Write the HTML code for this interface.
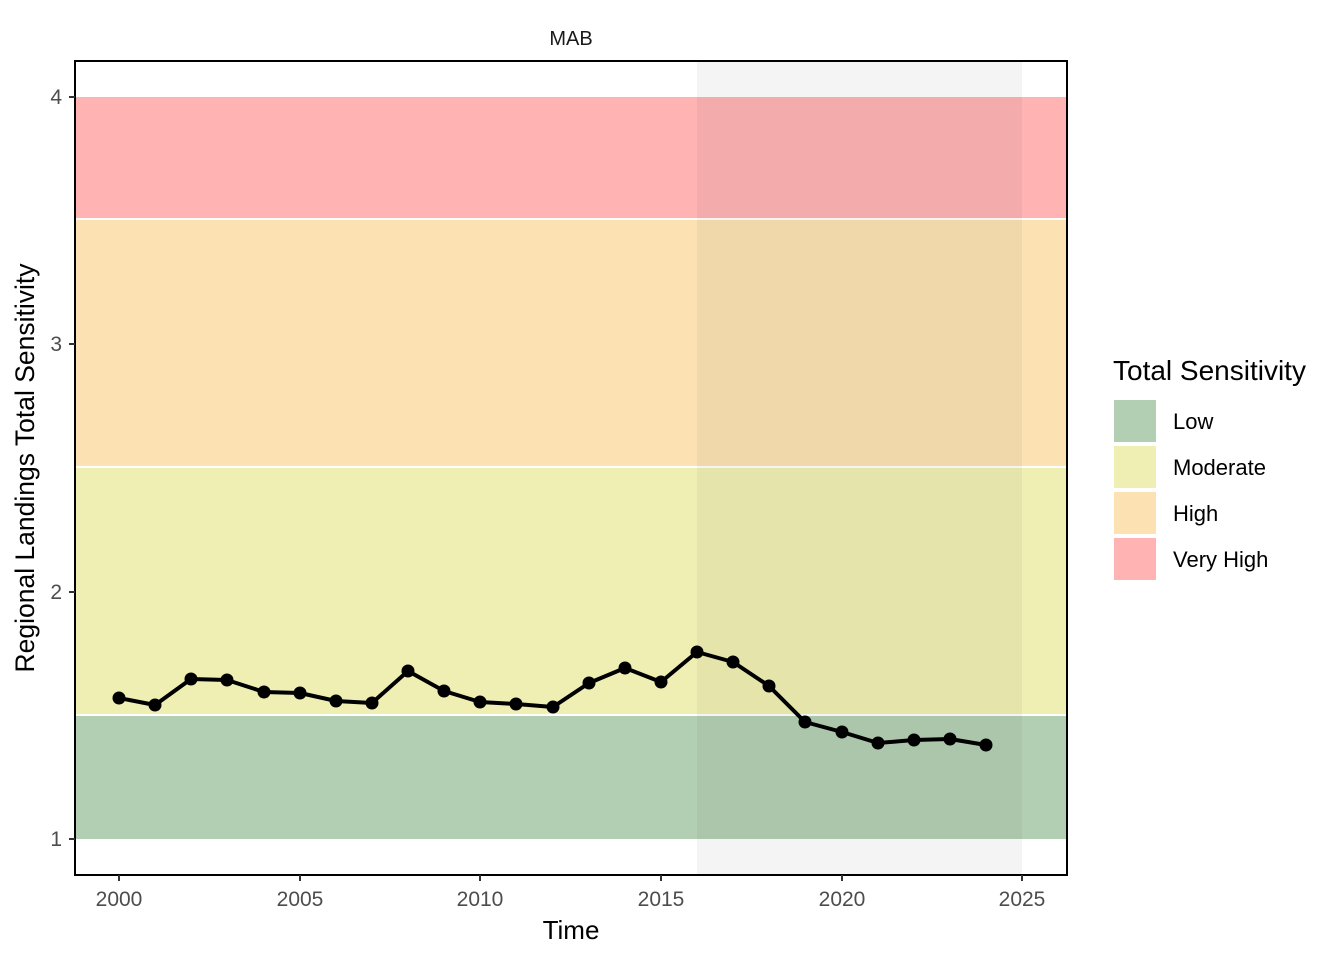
<!DOCTYPE html>
<html><head><meta charset="utf-8"><style>
html,body{margin:0;padding:0;background:#fff;}
svg{display:block;font-family:"Liberation Sans",Arial,sans-serif;}
</style></head><body>
<svg width="1344" height="960" viewBox="0 0 1344 960" xmlns="http://www.w3.org/2000/svg">
<rect width="1344" height="960" fill="#fff"/>
<text x="571" y="45" font-size="20" text-anchor="middle" fill="#1a1a1a">MAB</text>
<rect x="75" y="97" width="992" height="121" fill="#ffb3b3"/>
<rect x="75" y="220" width="992" height="246" fill="#fce2b3"/>
<rect x="75" y="468" width="992" height="246" fill="#f0efb3"/>
<rect x="75" y="716" width="992" height="123" fill="#b3cfb3"/>
<rect x="697" y="61" width="325" height="814" fill="#000" opacity="0.045"/>
<polyline fill="none" stroke="#000" stroke-width="4" stroke-linejoin="round"
points="119,698 155,705 191,679 227,680 264,692 300,693 336,701 372,703 408,671 444,691 480,702 516,704 553,707 589,683 625,668 661,682 697,652 733,662 769,686 805,722 842,732 878,743 914,740 950,739 986,745"/>
<g fill="#000">
<circle cx="119" cy="698" r="6.5"/><circle cx="155" cy="705" r="6.5"/><circle cx="191" cy="679" r="6.5"/><circle cx="227" cy="680" r="6.5"/><circle cx="264" cy="692" r="6.5"/><circle cx="300" cy="693" r="6.5"/><circle cx="336" cy="701" r="6.5"/><circle cx="372" cy="703" r="6.5"/><circle cx="408" cy="671" r="6.5"/><circle cx="444" cy="691" r="6.5"/><circle cx="480" cy="702" r="6.5"/><circle cx="516" cy="704" r="6.5"/><circle cx="553" cy="707" r="6.5"/><circle cx="589" cy="683" r="6.5"/><circle cx="625" cy="668" r="6.5"/><circle cx="661" cy="682" r="6.5"/><circle cx="697" cy="652" r="6.5"/><circle cx="733" cy="662" r="6.5"/><circle cx="769" cy="686" r="6.5"/><circle cx="805" cy="722" r="6.5"/><circle cx="842" cy="732" r="6.5"/><circle cx="878" cy="743" r="6.5"/><circle cx="914" cy="740" r="6.5"/><circle cx="950" cy="739" r="6.5"/><circle cx="986" cy="745" r="6.5"/>
</g>
<rect x="75" y="61" width="992" height="814" fill="none" stroke="#000" stroke-width="2"/>
<g stroke="#333" stroke-width="2">
<line x1="69" y1="97" x2="75" y2="97"/><line x1="69" y1="344" x2="75" y2="344"/>
<line x1="69" y1="592" x2="75" y2="592"/><line x1="69" y1="839" x2="75" y2="839"/>
<line x1="119" y1="875" x2="119" y2="881"/><line x1="300" y1="875" x2="300" y2="881"/>
<line x1="480" y1="875" x2="480" y2="881"/><line x1="661" y1="875" x2="661" y2="881"/>
<line x1="842" y1="875" x2="842" y2="881"/><line x1="1022" y1="875" x2="1022" y2="881"/>
</g>
<g font-size="21" fill="#4d4d4d" text-anchor="end">
<text x="62" y="104">4</text><text x="62" y="351">3</text><text x="62" y="599">2</text><text x="62" y="846">1</text>
</g>
<g font-size="21" fill="#4d4d4d" text-anchor="middle">
<text x="119" y="906">2000</text><text x="300" y="906">2005</text><text x="480" y="906">2010</text>
<text x="661" y="906">2015</text><text x="842" y="906">2020</text><text x="1022" y="906">2025</text>
</g>
<text x="571" y="939" font-size="26" text-anchor="middle" fill="#000">Time</text>
<text transform="translate(34,468) rotate(-90)" font-size="26.5" text-anchor="middle" fill="#000">Regional Landings Total Sensitivity</text>
<text x="1113" y="380" font-size="28" fill="#000">Total Sensitivity</text>
<rect x="1114" y="400" width="42" height="42" fill="#b3cfb3"/>
<rect x="1114" y="446" width="42" height="42" fill="#f0efb3"/>
<rect x="1114" y="492" width="42" height="42" fill="#fce2b3"/>
<rect x="1114" y="538" width="42" height="42" fill="#ffb3b3"/>
<g font-size="22" fill="#000">
<text x="1173" y="429">Low</text><text x="1173" y="475">Moderate</text>
<text x="1173" y="521">High</text><text x="1173" y="567">Very High</text>
</g>
</svg>
</body></html>
